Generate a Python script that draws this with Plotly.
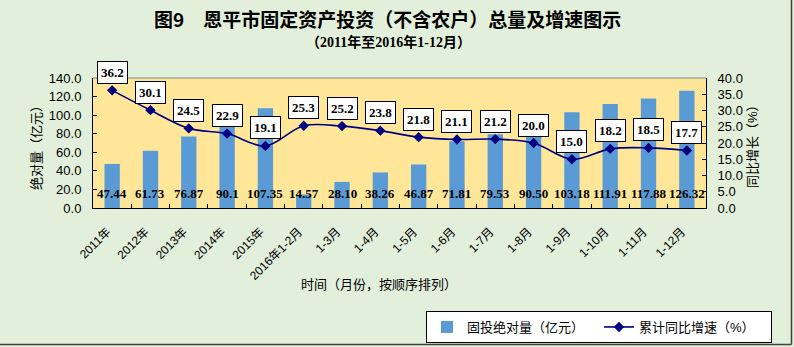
import plotly.graph_objects as go

categories = ["2011年", "2012年", "2013年", "2014年", "2015年", "2016年1-2月",
              "1-3月", "1-4月", "1-5月", "1-6月", "1-7月", "1-8月",
              "1-9月", "1-10月", "1-11月", "1-12月"]
invest = [47.44, 61.73, 76.87, 90.1, 107.35, 14.57, 28.10, 38.26, 46.87,
          71.81, 79.53, 90.50, 103.18, 111.91, 117.88, 126.32]
invest_labels = ["47.44", "61.73", "76.87", "90.1", "107.35", "14.57", "28.10", "38.26",
                 "46.87", "71.81", "79.53", "90.50", "103.18", "111.91", "117.88", "126.32"]
growth = [36.2, 30.1, 24.5, 22.9, 19.1, 25.3, 25.2, 23.8, 21.8, 21.1, 21.2,
          20.0, 15.0, 18.2, 18.5, 17.7]
growth_labels = ["%.1f" % g for g in growth]

W, H = 794, 347
L, R, T, B = 93, 706, 78, 208


def px_x(px):
    return (px - L) / (R - L)


def px_y(py):
    return (B - py) / (B - T)


CJK = "Liberation Sans, Noto Sans CJK SC, sans-serif"
SERIF = "Liberation Serif, Noto Sans CJK SC, serif"

fig = go.Figure()
fig.add_trace(go.Bar(
    x=categories, y=invest, name="固投绝对量（亿元）",
    marker=dict(color="#5B9BD5", line=dict(width=0)),
    yaxis="y", hoverinfo="skip",
))
fig.add_trace(go.Scatter(
    x=categories, y=growth, name="累计同比增速（%）", yaxis="y2",
    mode="lines+markers",
    line=dict(color="#000080", width=1.6, shape="spline", smoothing=1.0),
    marker=dict(symbol="diamond", size=8, color="#000080"),
    hoverinfo="skip",
))

annotations = []
for c, lab in zip(categories, invest_labels):
    annotations.append(dict(
        x=c, y=0, xref="x", yref="y", text="<b>%s</b>" % lab, showarrow=False,
        yanchor="middle", yshift=15, font=dict(family=SERIF, size=13, color="black"),
    ))
for c, g, lab in zip(categories, growth, growth_labels):
    annotations.append(dict(
        x=c, y=g, xref="x", yref="y2", text="<b>%s</b>" % lab, showarrow=False,
        yanchor="middle", yshift=18, bgcolor="white", bordercolor="black",
        borderwidth=1, borderpad=3, font=dict(family=SERIF, size=13, color="black"),
    ))

annotations += [
    dict(x=px_x(387), y=px_y(18), xref="paper", yref="paper",
         text="<b>图9　恩平市固定资产投资（不含农户）总量及增速图示</b>",
         showarrow=False, xanchor="center", yanchor="middle",
         font=dict(family="Noto Sans CJK SC", size=19, color="black")),
    dict(x=px_x(388), y=px_y(42), xref="paper", yref="paper",
         text="<b>（2011年至2016年1-12月）</b>",
         showarrow=False, xanchor="center", yanchor="middle",
         font=dict(family=SERIF, size=14, color="black")),
    dict(x=px_x(36), y=px_y(145), xref="paper", yref="paper",
         text="绝对量（亿元）", textangle=-90,
         showarrow=False, xanchor="center", yanchor="middle",
         font=dict(family=CJK, size=13, color="black")),
    dict(x=px_x(752), y=px_y(143), xref="paper", yref="paper",
         text="同比增长（%）", textangle=-90,
         showarrow=False, xanchor="center", yanchor="middle",
         font=dict(family=CJK, size=13, color="black")),
    dict(x=px_x(379), y=px_y(284), xref="paper", yref="paper",
         text="时间（月份，按顺序排列）",
         showarrow=False, xanchor="center", yanchor="middle",
         font=dict(family=CJK, size=13, color="black")),
]

shapes = [
    dict(type="line", xref="paper", yref="paper", x0=0, x1=1, y0=1, y1=1,
         line=dict(color="#808080", width=1)),
    dict(type="line", xref="paper", yref="paper",
         x0=px_x(791.5), x1=px_x(791.5), y0=px_y(0), y1=px_y(344.5),
         line=dict(color="#404040", width=1.5)),
    dict(type="line", xref="paper", yref="paper",
         x0=px_x(0), x1=px_x(791.5), y0=px_y(344.5), y1=px_y(344.5),
         line=dict(color="#404040", width=1.5)),
]

fig.update_layout(
    width=W, height=H,
    margin=dict(l=L, r=W - R, t=T, b=H - B, pad=0, autoexpand=False),
    paper_bgcolor="#E2EFDA",
    plot_bgcolor="#FFE699",
    bargap=0.6,
    showlegend=True,
    legend=dict(
        orientation="h", x=px_x(426), y=px_y(311), xanchor="left", yanchor="top",
        bgcolor="white", bordercolor="black", borderwidth=1,
        font=dict(family=CJK, size=13, color="black"),
        entrywidth=127, entrywidthmode="pixels", itemwidth=30,
        tracegroupgap=0, valign="middle",
    ),
    xaxis=dict(
        type="category", tickangle=-45, showline=True, linecolor="black", linewidth=1,
        ticks="inside", ticklen=4, tickcolor="black", tickson="boundaries",
        showgrid=False, tickfont=dict(family=CJK, size=12, color="black"),
        range=[-0.5, len(categories) - 0.5], automargin=False,
        ticklabelstandoff=11, ticklabelshift=-5,
    ),
    yaxis=dict(
        range=[0, 140], dtick=20, tickformat=".1f", showline=True, linecolor="black",
        linewidth=1, ticks="inside", ticklen=4, tickcolor="black", showgrid=False,
        zeroline=False, tickfont=dict(family=CJK, size=13, color="black"),
        ticklabelstandoff=8, automargin=False,
    ),
    yaxis2=dict(
        range=[0, 40], dtick=5, tickformat=".1f", overlaying="y", side="right",
        showline=True, linecolor="black", linewidth=1, ticks="inside", ticklen=4,
        tickcolor="black", showgrid=False, zeroline=False,
        tickfont=dict(family=CJK, size=13, color="black"),
        ticklabelstandoff=8, automargin=False,
    ),
    annotations=annotations,
    shapes=shapes,
)

fig.write_html("out.html")
